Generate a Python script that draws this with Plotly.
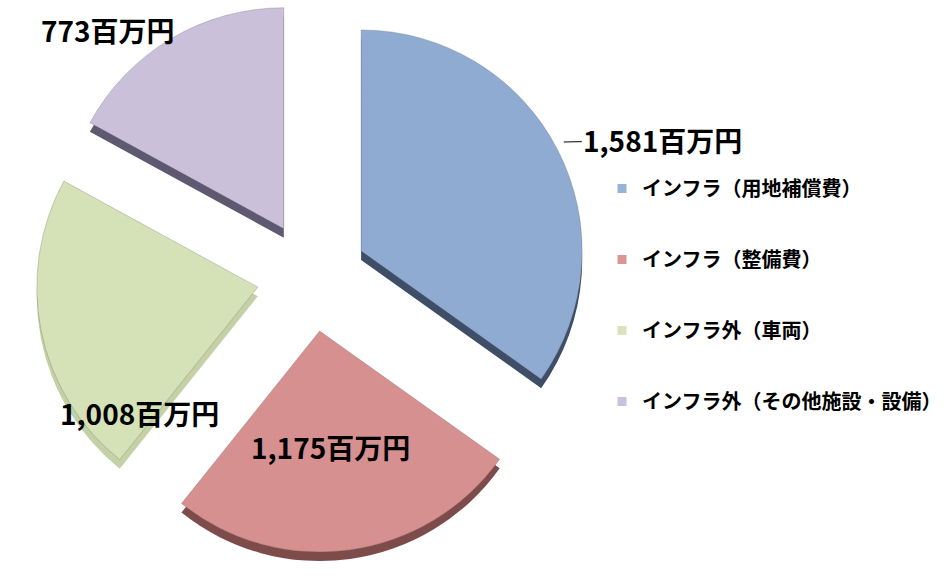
import plotly.graph_objects as go

# ---- data ----
categories = ["インフラ（用地補償費）", "インフラ（整備費）", "インフラ外（車両）", "インフラ外（その他施設・設備）"]
values = [1581, 1175, 1008, 773]
unit = "百万円"

# ---- styles ----
face_colors = ["#8FABD2", "#D69090", "#D5E2B8", "#CBC0DA"]
side_colors = ["#3E4E66", "#7D4B4A", "#C4D0A5", "#5E5870"]
legend_colors = ["#95B3D7", "#D99694", "#D7E4BD", "#CCC1DA"]
W, H = 947, 578
FONT = "Noto Sans CJK JP"
pull = 0.25
dom_x = [0.0275, 0.6399]
dom_y = [0.044, 1.0]
depth = 9 / H

fig = go.Figure()

# thickness layer (same pie, shifted down)
fig.add_trace(go.Pie(
    labels=categories, values=values, sort=False, direction="clockwise", rotation=0,
    pull=[pull] * len(values), marker=dict(colors=side_colors, line=dict(width=0)),
    textinfo="none", hoverinfo="skip", showlegend=False,
    domain=dict(x=dom_x, y=[dom_y[0] - depth, dom_y[1] - depth]),
))
# top face
fig.add_trace(go.Pie(
    labels=categories, values=values, sort=False, direction="clockwise", rotation=0,
    pull=[pull] * len(values),
    marker=dict(colors=face_colors, line=dict(width=0.6, color="rgba(90,90,90,0.45)")),
    textinfo="none", showlegend=False,
    domain=dict(x=dom_x, y=dom_y),
))

# legend entries
for i, (name, c) in enumerate(zip(categories, legend_colors)):
    fig.add_trace(go.Scatter(
        x=[None], y=[None], mode="markers", name=name, legendgroup=f"g{i}",
        marker=dict(symbol="square", size=9, color=c), showlegend=True,
    ))

# value labels
label_pos = [(670, 140), (335, 447), (141, 413), (109, 30)]
for i, (v, (px, py)) in enumerate(zip(values, label_pos)):
    txt = f"{v:,}{unit}"
    if i == 0:
        fig.add_annotation(
            x=571 / W, y=1 - 142 / H, xref="paper", yref="paper", text=txt,
            showarrow=True, arrowhead=0, arrowwidth=1, arrowcolor="black",
            ax=px - 571, ay=py - 142, standoff=0,
            font=dict(family=FONT, size=28, color="black", weight="bold"),
        )
    else:
        fig.add_annotation(
            x=px / W, y=1 - py / H, xref="paper", yref="paper", text=txt,
            showarrow=False, xanchor="center", yanchor="middle",
            font=dict(family=FONT, size=28, color="black", weight="bold"),
        )

fig.update_layout(
    width=W, height=H, margin=dict(l=0, r=0, t=0, b=0),
    paper_bgcolor="white", plot_bgcolor="white",
    xaxis=dict(visible=False), yaxis=dict(visible=False),
    legend=dict(
        x=610 / W, y=1 - 169 / H, xanchor="left", yanchor="top",
        font=dict(family=FONT, size=20, color="black", weight="bold"),
        tracegroupgap=42, traceorder="grouped", bgcolor="rgba(0,0,0,0)",
    ),
)

fig.write_html("out.html")
